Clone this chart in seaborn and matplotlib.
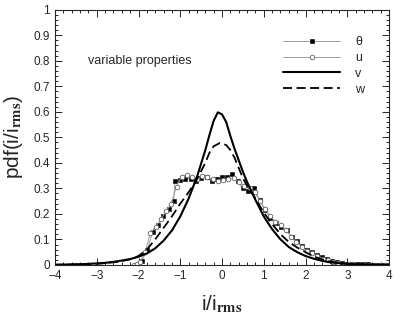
import numpy as np
import pandas as pd
import seaborn as sns
import matplotlib
matplotlib.use('Agg')
import matplotlib.pyplot as plt
from matplotlib.ticker import MultipleLocator

# theta: filled squares
theta_x = [-2.06, -1.92, -1.79, -1.66, -1.53, -1.41, -1.28, -1.16, -1.13, -1.0, -0.88, -0.75,
           -0.62, -0.5, -0.37, -0.25, -0.12, 0.0, 0.12, 0.25, 0.38, 0.5, 0.63, 0.77, 0.9,
           1.03, 1.16, 1.29, 1.42, 1.55, 1.67, 1.79, 1.91, 2.03, 2.15, 2.27, 2.39, 2.51,
           2.63, 2.75, 2.87, 3.0, 3.12, 3.25, 3.37, 3.5, 3.62, 3.75, 3.87, 4.0]
theta_y = [0.0, 0.016, 0.058, 0.13, 0.155, 0.19, 0.218, 0.25, 0.33, 0.333, 0.337, 0.337,
           0.33, 0.34, 0.344, 0.33, 0.336, 0.344, 0.345, 0.357, 0.327, 0.3, 0.29, 0.3, 0.255,
           0.216, 0.185, 0.165, 0.15, 0.138, 0.11, 0.092, 0.073, 0.06, 0.05, 0.04, 0.03, 0.022,
           0.016, 0.01, 0.007, 0.005, 0.004, 0.003, 0.002, 0.002, 0.001, 0.001, 0.0, 0.0]

# u: open circles
u_x = [-2.1, -2.03, -1.97, -1.84, -1.72, -1.59, -1.46, -1.34, -1.22, -1.09, -0.97, -0.85,
       -0.72, -0.6, -0.47, -0.35, -0.22, -0.1, 0.03, 0.15, 0.28, 0.41, 0.53, 0.66, 0.78,
       0.91, 1.03, 1.16, 1.28, 1.41, 1.53, 1.66, 1.78, 1.91, 2.03, 2.16, 2.28, 2.41, 2.53,
       2.66, 2.78, 2.91, 3.03, 3.16, 3.28, 3.41, 3.53, 3.66, 3.78, 3.91]
u_y = [0.0, 0.003, 0.01, 0.05, 0.124, 0.15, 0.18, 0.21, 0.24, 0.307, 0.346, 0.353,
       0.345, 0.335, 0.349, 0.345, 0.336, 0.33, 0.333, 0.335, 0.34, 0.325, 0.31, 0.3, 0.285,
       0.25, 0.22, 0.19, 0.17, 0.155, 0.135, 0.11, 0.09, 0.07, 0.055, 0.045, 0.035, 0.025, 0.018,
       0.012, 0.008, 0.005, 0.003, 0.002, 0.001, 0.001, 0.0, 0.0, 0.0, 0.0]

# v: solid
v_x = [-4.0, -3.6, -3.2, -3.0, -2.8, -2.6, -2.4, -2.2, -2.0, -1.8, -1.6, -1.4, -1.2, -1.0,
       -0.8, -0.6, -0.4, -0.3, -0.2, -0.1, 0.0, 0.1, 0.2, 0.3, 0.4, 0.5, 0.6, 0.7, 0.8,
       1.0, 1.2, 1.4, 1.6, 1.8, 2.0, 2.2, 2.4, 2.6, 2.8, 3.0, 3.4, 4.0]
v_y = [0.001, 0.002, 0.004, 0.006, 0.008, 0.012, 0.017, 0.023, 0.032, 0.045, 0.065, 0.095,
       0.135, 0.19, 0.26, 0.345, 0.45, 0.51, 0.565, 0.598, 0.59, 0.56, 0.505, 0.455, 0.41,
       0.365, 0.325, 0.29, 0.255, 0.19, 0.14, 0.1, 0.07, 0.05, 0.035, 0.024, 0.016, 0.01,
       0.007, 0.004, 0.002, 0.0]

# w: dashed
w_x = [-4.0, -3.0, -2.5, -2.2, -2.0, -1.8, -1.6, -1.4, -1.2, -1.0, -0.8, -0.6, -0.4, -0.3,
       -0.2, -0.05, 0.1, 0.2, 0.3, 0.4, 0.5, 0.6, 0.7, 0.8, 1.0, 1.2, 1.4, 1.6, 1.8, 2.0,
       2.2, 2.4, 2.6, 2.8, 3.0, 3.5, 4.0]
w_y = [0.0, 0.004, 0.012, 0.022, 0.035, 0.06, 0.1, 0.145, 0.19, 0.24, 0.285, 0.335, 0.4,
       0.44, 0.465, 0.478, 0.47, 0.45, 0.42, 0.38, 0.34, 0.31, 0.285, 0.26, 0.205, 0.16,
       0.12, 0.09, 0.068, 0.05, 0.033, 0.022, 0.013, 0.007, 0.004, 0.001, 0.0]

yticks = [0, 0.1, 0.2, 0.3, 0.4, 0.5, 0.6, 0.7, 0.8, 0.9, 1]
ytick_labels = ['0', '0.1', '0.2', '0.3', '0.4', '0.5', '0.6', '0.7', '0.8', '0.9', '1']

sns.set_style('ticks')
plt.rcParams['font.family'] = ['Liberation Sans', 'DejaVu Sans']
plt.rcParams['mathtext.fontset'] = 'stix'

fig = plt.figure(figsize=(4.15, 3.15), dpi=100)
ax = fig.add_axes([0.1325, 0.159, 0.805, 0.81])

sns.lineplot(x=theta_x, y=theta_y, ax=ax, estimator=None, sort=False, color='#a0a0a0', lw=0.7,
             marker='s', markersize=2.6, markerfacecolor='black', markeredgecolor='black',
             markeredgewidth=0.4, label='θ')
sns.lineplot(x=u_x, y=u_y, ax=ax, estimator=None, sort=False, color='#a0a0a0', lw=0.7,
             marker='o', markersize=3.3, markerfacecolor='white', markeredgecolor='#606060',
             markeredgewidth=0.6, label='u')
sns.lineplot(x=v_x, y=v_y, ax=ax, estimator=None, sort=False, color='black', lw=1.5, label='v')
sns.lineplot(x=w_x, y=w_y, ax=ax, estimator=None, sort=False, color='black', lw=1.3, label='w')
ax.lines[-1].set_linestyle((0, (5, 2.5)))

ax.set_xlim(-4, 4)
ax.set_ylim(0, 1)
ax.xaxis.set_major_locator(MultipleLocator(1))
ax.xaxis.set_minor_locator(MultipleLocator(0.2))
ax.set_yticks(yticks)
ax.set_yticklabels(ytick_labels)
ax.yaxis.set_minor_locator(MultipleLocator(0.02))
ax.tick_params(which='both', direction='in', top=True, right=True, labelsize=8.5, width=0.7)
ax.tick_params(which='major', length=5)
ax.tick_params(which='minor', length=2.5)
for s in ax.spines.values():
    s.set_linewidth(0.8)

ax.set_xlabel(r'i/i$_{\mathbf{rms}}$', fontsize=15, labelpad=8)
ax.set_ylabel(r'pdf(i/i$_{\mathbf{rms}}$)', fontsize=15, labelpad=6)
ax.text(-3.2, 0.8, 'variable properties', fontsize=9, va='center')

leg = ax.legend(loc='upper right', bbox_to_anchor=(0.96, 0.94), frameon=False, fontsize=9,
                handlelength=4.6, labelspacing=0.3, handletextpad=1.2, numpoints=1)

fig.savefig('out.png', dpi=100)
